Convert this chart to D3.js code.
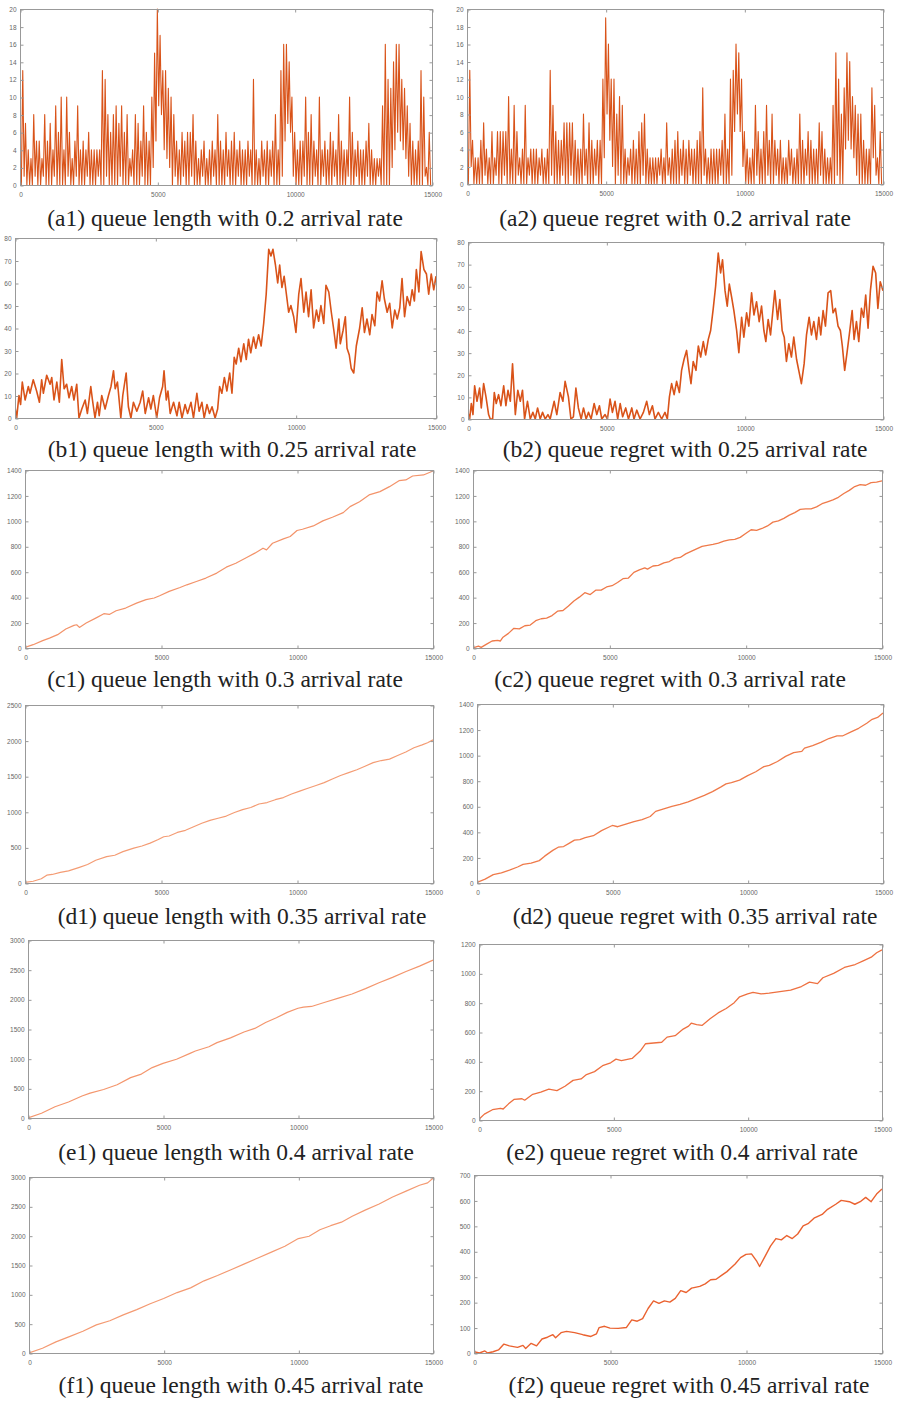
<!DOCTYPE html>
<html>
<head>
<meta charset="utf-8">
<script src="https://cdn.jsdelivr.net/npm/d3@7"></script>
<style>
  body { margin: 0; background: #fff; }
  .tick text { font-family: "Liberation Sans", Arial, sans-serif; font-size: 6.5px; fill: #666; }
  .tick line { stroke: #999; }
  .caption { font-family: "Liberation Serif", "Times New Roman", serif; font-size: 23.5px; fill: #222; }
</style>
</head>
<body>
<div id="chart"></div>
<script>
// ---- data ----
const xTicks = [0, 5000, 10000, 15000];
const binSize = 100;

const captions = [
  "(a1) queue length with 0.2 arrival rate", "(a2) queue regret with 0.2 arrival rate",
  "(b1) queue length with 0.25 arrival rate", "(b2) queue regret with 0.25 arrival rate",
  "(c1) queue length with 0.3 arrival rate", "(c2) queue regret with 0.3 arrival rate",
  "(d1) queue length with 0.35 arrival rate", "(d2) queue regret with 0.35 arrival rate",
  "(e1) queue length with 0.4 arrival rate", "(e2) queue regret with 0.4 arrival rate",
  "(f1) queue length with 0.45 arrival rate", "(f2) queue regret with 0.45 arrival rate"
];
const yMax = [20, 20, 80, 80, 1400, 1400, 2500, 1400, 3000, 1200, 3000, 700];
const yStep = [2, 2, 10, 10, 200, 200, 500, 200, 500, 200, 500, 100];

// 0.2 arrival rate: per-100-step bin max / min of the queue
const a1Hi = [
  3,13,7,4,3,8,5,5,3,8, 5,7,4,9,6,10,4,10,6,3, 5,9,4,5,4,6,4,4,4,4,
  13,12,8,6,8,9,7,9,6,8, 3,4,8,7,5,9,6,5,10,15, 20,17,13,13,11,10,8,5,4,6,
  5,6,6,8,5,3,4,5,3,4, 5,4,8,5,4,6,4,5,6,4, 5,4,4,5,4,12,4,3,5,4,
  5,4,5,8,4,13,16,16,14,10, 6,4,5,5,10,6,8,5,4,10, 4,5,4,6,5,4,8,5,4,4,
  10,6,4,5,4,4,5,7,4,3, 3,3,9,16,12,11,14,16,16,12, 11,9,7,5,4,5,13,10,2,6
];
const a1Lo = [
  0,1,0,0,0,1,0,0,1,0, 0,0,1,0,0,0,0,1,0,0, 1,0,0,0,1,0,0,0,1,0,
  0,1,0,0,0,0,1,0,0,0, 1,0,0,0,1,0,0,0,2,5, 9,8,4,3,2,0,1,0,0,1,
  0,0,1,0,0,0,1,0,0,0, 1,0,0,0,0,1,0,0,0,1, 0,0,0,1,0,0,0,0,1,0,
  0,1,0,0,0,1,5,7,6,1, 0,0,0,1,0,0,0,1,0,0, 1,0,0,0,1,0,0,0,0,1,
  0,0,1,0,0,0,1,0,0,0, 1,0,0,0,0,2,4,6,5,4, 3,1,0,0,0,0,0,1,0,0
];
const a2Hi = [
  3,13,5,3,3,5,7,4,3,6, 3,6,6,6,6,10,4,9,6,3, 4,9,3,4,4,4,3,4,3,4,
  13,9,6,5,5,7,7,7,7,5, 4,4,8,4,7,5,4,5,5,12, 19,16,12,12,8,10,9,4,3,4,
  5,4,6,7,8,4,3,3,3,3, 4,3,7,3,4,5,6,4,5,4, 5,4,4,5,6,11,4,3,4,4,
  4,4,5,8,4,12,13,16,15,12, 6,4,3,4,9,6,4,6,9,5, 8,5,4,5,3,3,5,4,3,4,
  8,5,4,6,5,4,4,7,6,4, 3,3,9,15,12,8,11,15,14,10, 9,8,8,5,4,4,11,9,3,6
];
const a2Lo = [
  0,2,0,0,0,0,1,0,0,0, 1,0,0,1,0,0,0,0,1,0, 0,0,1,0,0,0,1,0,0,0,
  1,0,0,0,1,0,0,1,0,0, 0,0,1,0,0,0,1,0,0,3, 8,5,2,0,1,0,0,0,1,0,
  0,0,0,1,0,0,0,0,0,1, 0,0,1,0,0,0,0,1,0,0, 1,0,0,0,0,1,0,0,0,0,
  0,1,0,0,0,1,6,8,6,2, 0,0,0,0,1,0,0,0,1,0, 0,1,0,0,0,0,1,0,0,0,
  0,0,1,0,0,0,0,1,0,0, 0,0,0,1,0,0,4,5,4,3, 1,0,0,0,0,0,3,1,0,0
];

// 0.25 arrival rate: [step, value]
const b1 = [
  [0,5],[60,0],[140,10],[200,6],[260,16],[360,8],[475,14],[535,11],[650,17],[770,12],
  [870,7],[950,17],[1010,11],[1130,19],[1250,15],[1310,18],[1390,8],[1490,16],[1580,7],[1665,26],
  [1750,13],[1840,15],[1925,9],[2020,14],[2100,8],[2200,15],[2280,0],[2380,4],[2500,8],[2580,2],
  [2700,14],[2760,8],[2850,0],[2940,7],[3000,1],[3090,10],[3210,4],[3330,10],[3420,14],[3510,21],
  [3570,13],[3650,16],[3770,0],[3840,10],[3960,20],[4040,5],[4130,0],[4220,7],[4340,3],[4460,7],
  [4550,12],[4640,2],[4760,9],[4840,4],[4930,10],[5050,0],[5150,9],[5260,14],[5310,21],[5390,8],
  [5450,12],[5530,2],[5650,7],[5770,1],[5850,7],[5950,0],[6060,6],[6150,2],[6270,7],[6360,0],
  [6480,11],[6560,3],[6660,7],[6740,0],[6840,6],[6930,2],[7020,5],[7130,0],[7220,4],[7290,14],
  [7370,11],[7460,18],[7550,12],[7650,20],[7730,11],[7810,27],[7880,24],[7970,31],[8050,25],[8150,33],
  [8240,26],[8320,35],[8400,29],[8500,36],[8580,31],[8680,37],[8770,32],[8860,42],[8950,55],[9040,75],
  [9120,72],[9190,75],[9280,68],[9360,60],[9430,68],[9510,58],[9590,63],[9670,55],[9750,47],[9830,50],
  [9930,45],[10010,38],[10110,55],[10190,62],[10290,47],[10370,56],[10460,45],[10550,57],[10640,40],[10740,48],
  [10820,43],[10900,50],[11000,42],[11080,59],[11180,56],[11270,47],[11360,39],[11440,31],[11540,44],[11590,33],
  [11690,39],[11770,45],[11830,31],[11910,28],[11980,22],[12070,20],[12160,32],[12280,40],[12370,49],[12450,38],
  [12540,44],[12640,37],[12720,46],[12820,41],[12900,56],[12990,52],[13080,61],[13160,53],[13260,47],[13350,51],
  [13440,40],[13530,48],[13620,44],[13710,49],[13790,62],[13880,45],[13970,54],[14070,50],[14150,57],[14230,52],
  [14300,66],[14390,56],[14470,74],[14570,66],[14660,64],[14740,55],[14830,64],[14920,57],[15000,63]
];
const b2 = [
  [0,3],[60,0],[120,7],[180,2],[240,15],[325,8],[420,14],[480,5],[565,16],[650,10],
  [745,2],[805,0],[890,0],[950,12],[1020,7],[1105,11],[1190,6],[1290,15],[1370,6],[1445,13],
  [1530,8],[1610,25],[1710,2],[1800,13],[1890,8],[1970,13],[2045,0],[2150,8],[2250,0],[2345,3],
  [2430,0],[2515,5],[2610,0],[2695,3],[2790,0],[2890,2],[2970,0],[3115,8],[3210,2],[3330,12],
  [3430,8],[3510,17],[3630,10],[3720,0],[3810,1],[3900,14],[3990,5],[4090,0],[4175,5],[4270,0],
  [4355,3],[4450,0],[4560,7],[4655,2],[4750,6],[4835,0],[4955,2],[5040,0],[5135,9],[5220,3],
  [5315,8],[5410,0],[5500,7],[5590,1],[5700,5],[5800,0],[5920,5],[6000,0],[6100,4],[6220,0],
  [6340,3],[6460,8],[6555,2],[6665,6],[6760,0],[6880,3],[7000,0],[7120,3],[7205,0],[7280,10],
  [7360,16],[7450,11],[7540,17],[7640,12],[7720,22],[7810,27],[7900,31],[7990,22],[8060,16],[8140,26],
  [8240,22],[8325,33],[8410,28],[8505,35],[8590,29],[8685,36],[8770,40],[8865,50],[8950,60],[9045,75],
  [9130,66],[9200,72],[9290,58],[9370,51],[9445,61],[9530,55],[9610,49],[9710,40],[9790,30],[9890,46],
  [9970,37],[10070,48],[10150,42],[10250,57],[10335,47],[10430,53],[10525,44],[10610,51],[10695,40],[10765,35],
  [10850,45],[10935,38],[11005,47],[11090,58],[11190,45],[11270,54],[11355,40],[11430,37],[11510,26],[11595,34],
  [11690,28],[11775,37],[11875,27],[11955,22],[12050,16],[12150,25],[12235,38],[12330,46],[12415,38],[12500,44],
  [12595,36],[12680,46],[12750,38],[12835,49],[12920,42],[13015,57],[13110,58],[13195,48],[13280,50],[13375,42],
  [13460,40],[13530,33],[13615,22],[13700,30],[13800,40],[13885,49],[13955,36],[14040,44],[14125,35],[14220,50],
  [14300,46],[14375,56],[14460,41],[14545,58],[14640,69],[14735,66],[14815,50],[14900,62],[15000,58]
];

// 0.3 - 0.45 arrival rate: [step, value]
const c1 = [
  [0,5],[300,26],[650,58],[900,78],[1200,105],[1500,149],[1800,178],[1900,183],[2000,162],[2250,196],
  [2600,235],[2900,270],[3100,264],[3350,293],[3700,314],[4100,353],[4450,380],[4750,393],[4950,411],[5300,445],
  [5700,476],[5950,497],[6300,523],[6650,550],[7050,589],[7400,636],[7750,667],[8150,712],[8450,746],[8750,785],
  [8880,772],[9100,824],[9500,858],[9750,877],[10000,924],[10200,934],[10600,960],[10950,1000],[11300,1028],[11700,1065],
  [11950,1112],[12300,1151],[12650,1204],[13050,1230],[13400,1269],[13750,1316],[14000,1322],[14250,1353],[14650,1361],[15000,1392]
];
const c2 = [
  [0,0],[200,15],[300,5],[500,30],[700,55],[900,60],[1000,55],[1100,85],[1300,115],[1500,155],
  [1700,150],[1900,175],[2100,180],[2300,215],[2500,230],[2700,235],[2900,255],[3100,290],[3300,295],[3500,330],
  [3700,370],[3900,400],[4100,435],[4300,420],[4500,455],[4700,455],[4900,480],[5100,490],[5300,515],[5500,545],
  [5700,550],[5900,595],[6100,615],[6300,630],[6400,620],[6600,645],[6800,650],[7000,670],[7200,680],[7400,705],
  [7600,712],[7800,740],[8000,760],[8200,780],[8400,800],[8600,808],[8800,815],[9000,825],[9200,840],[9400,850],
  [9600,855],[9800,870],[10000,900],[10200,930],[10400,925],[10600,940],[10800,960],[11000,990],[11200,1000],[11400,1020],
  [11600,1045],[11800,1065],[12000,1090],[12200,1095],[12400,1095],[12600,1110],[12800,1135],[13000,1150],[13200,1165],[13400,1185],
  [13600,1215],[13800,1240],[14000,1270],[14200,1285],[14400,1280],[14600,1300],[14800,1305],[15000,1315]
];
const d1 = [
  [0,10],[300,25],[600,60],[800,110],[1000,120],[1300,150],[1600,170],[2000,220],[2300,260],[2600,320],
  [3000,370],[3300,390],[3600,440],[4000,490],[4300,520],[4600,560],[4900,610],[5100,650],[5300,660],[5600,710],
  [5900,740],[6200,790],[6500,840],[6800,880],[7100,910],[7400,940],[7700,990],[8000,1030],[8300,1060],[8600,1110],
  [8900,1130],[9200,1170],[9500,1200],[9800,1250],[10100,1290],[10400,1330],[10700,1370],[11000,1410],[11300,1460],[11600,1510],
  [11900,1550],[12200,1590],[12500,1640],[12800,1690],[13100,1720],[13400,1740],[13700,1790],[14000,1840],[14300,1900],[14600,1940],
  [14800,1970],[15000,2010]
];
const d2 = [
  [0,5],[300,30],[600,65],[900,80],[1200,100],[1500,125],[1700,145],[2000,155],[2300,175],[2500,210],
  [2800,255],[3000,280],[3200,285],[3400,310],[3600,335],[3800,340],[4000,355],[4300,370],[4600,410],[4900,440],
  [5000,450],[5200,440],[5500,460],[5800,480],[6100,495],[6400,520],[6600,560],[6900,580],[7200,600],[7500,615],
  [7800,635],[8100,660],[8400,685],[8700,715],[9000,750],[9200,775],[9400,785],[9700,805],[10000,840],[10300,870],
  [10600,910],[10800,920],[11100,950],[11400,990],[11700,1020],[12000,1030],[12100,1055],[12400,1075],[12700,1100],[13000,1130],
  [13300,1150],[13500,1150],[13800,1180],[14100,1210],[14400,1250],[14600,1280],[14800,1295],[15000,1330]
];
const e1 = [
  [0,0],[500,80],[1000,190],[1500,270],[2000,370],[2300,420],[2800,480],[3300,560],[3800,680],[4200,740],
  [4600,850],[5000,920],[5500,990],[6000,1090],[6200,1130],[6700,1200],[7000,1270],[7500,1350],[8000,1450],[8400,1510],
  [8800,1610],[9200,1690],[9600,1780],[10000,1850],[10200,1870],[10500,1880],[11000,1950],[11500,2020],[12000,2090],[12500,2180],
  [13000,2280],[13500,2370],[14000,2470],[14500,2560],[15000,2660]
];
const e2 = [
  [0,5],[200,40],[500,70],[800,80],[900,75],[1100,110],[1300,140],[1600,145],[1700,135],[2000,175],
  [2300,190],[2600,210],[2900,200],[3200,230],[3500,270],[3800,280],[4000,310],[4300,330],[4600,370],[4900,390],
  [5100,415],[5300,405],[5700,420],[6000,470],[6200,520],[6500,525],[6800,530],[7000,565],[7300,575],[7600,620],
  [7800,640],[7900,660],[8100,650],[8300,645],[8600,690],[8900,730],[9200,760],[9500,800],[9700,840],[10000,860],
  [10200,870],[10500,860],[10800,865],[11200,875],[11600,885],[12000,910],[12300,940],[12600,930],[12800,970],[13200,1000],
  [13600,1040],[14000,1060],[14300,1085],[14600,1110],[14800,1140],[15000,1160]
];
const f1 = [
  [0,0],[500,80],[1000,190],[1500,280],[2000,370],[2500,480],[3000,550],[3500,650],[4000,740],[4500,840],
  [5000,930],[5500,1030],[6000,1110],[6500,1230],[7000,1320],[7500,1420],[8000,1520],[8500,1620],[9000,1720],[9500,1820],
  [10000,1950],[10400,1990],[10800,2100],[11200,2170],[11600,2230],[12000,2330],[12500,2440],[13000,2540],[13500,2660],[14000,2760],
  [14500,2860],[14800,2900],[15000,2980]
];
const f2 = [
  [0,5],[200,0],[400,8],[500,0],[700,5],[900,12],[1100,35],[1300,28],[1600,22],[1800,30],
  [1900,18],[2100,38],[2300,28],[2500,55],[2700,62],[2900,72],[3000,60],[3200,80],[3400,85],[3700,80],
  [4000,72],[4300,65],[4500,75],[4600,100],[4800,105],[5000,98],[5300,97],[5600,100],[5800,130],[6000,125],
  [6200,135],[6400,175],[6600,205],[6800,195],[7000,205],[7200,200],[7400,215],[7600,245],[7800,238],[8000,255],
  [8300,262],[8500,272],[8700,288],[8900,290],[9100,305],[9300,320],[9600,350],[9800,375],[10000,388],[10200,390],
  [10400,360],[10500,340],[10700,380],[10900,420],[11100,450],[11300,445],[11500,462],[11700,450],[11900,468],[12100,500],
  [12300,510],[12500,530],[12800,545],[13000,565],[13300,585],[13500,600],[13800,595],[14000,585],[14200,595],[14400,612],
  [14600,595],[14800,625],[15000,645]
];

// turn per-bin max/min into a zigzag trace
function binsToTrace(hi, lo) {
  const pts = [];
  hi.forEach((h, i) => {
    pts.push([i * binSize, h]);
    pts.push([i * binSize + binSize / 2, lo[i]]);
  });
  return pts;
}

const series = [
  binsToTrace(a1Hi, a1Lo), binsToTrace(a2Hi, a2Lo),
  b1, b2, c1, c2, d1, d2, e1, e2, f1, f2
];

// ---- layout: plot boxes [left, right, top, bottom], caption [centre x, baseline y] ----
const boxes = [
  [20, 432, 9, 185], [467, 883, 9, 184],
  [15, 436, 238, 418], [468, 883, 242, 419],
  [25, 433, 470, 648], [473, 882, 470, 648],
  [25, 433, 705, 883], [477, 883, 704, 883],
  [28, 433, 940, 1118], [479, 882, 944, 1120],
  [29, 433, 1177, 1353], [474, 882, 1175, 1353]
];
const capPos = [
  [225, 226], [675, 226], [232, 457], [685, 457], [225, 687], [670, 687],
  [242, 924], [695, 924], [236, 1160], [682, 1160], [241, 1393], [689, 1393]
];
const lineColor = [
  "#D95319", "#D95319", "#D95319", "#D95319",
  "#F3936A", "#EF7A4A", "#F49C74", "#EF7A4A",
  "#F4966D", "#EE7040", "#F49A72", "#EA6230"
];
const lineWidth = [1.1, 1.1, 1.6, 1.6, 1.2, 1.3, 1.2, 1.3, 1.2, 1.3, 1.2, 1.4];

const svg = d3.select("#chart").append("svg")
  .attr("width", 900)
  .attr("height", 1405);

series.forEach((data, i) => {
  const [L, R, T, B] = boxes[i];
  const x = d3.scaleLinear().domain([0, 15000]).range([L, R]);
  const y = d3.scaleLinear().domain([0, yMax[i]]).range([B, T]);
  const yTicks = d3.range(0, yMax[i] + 1, yStep[i]);

  const g = svg.append("g");

  const clipId = "clip" + i;
  g.append("clipPath").attr("id", clipId)
    .append("rect").attr("x", L).attr("y", T - 1).attr("width", R - L + 1).attr("height", B - T + 2);

  g.append("path")
    .datum(data)
    .attr("clip-path", `url(#${clipId})`)
    .attr("fill", "none")
    .attr("stroke", lineColor[i])
    .attr("stroke-width", lineWidth[i])
    .attr("stroke-linejoin", "round")
    .attr("d", d3.line().x(d => x(d[0])).y(d => y(d[1])));

  // axes, matlab style: inward ticks on all four sides
  const fmt = d3.format("d");
  const axB = g.append("g").attr("transform", `translate(0.5,${B + 0.5})`)
    .call(d3.axisBottom(x).tickValues(xTicks).tickSizeInner(-3).tickSizeOuter(0).tickPadding(7).tickFormat(fmt));
  const axT = g.append("g").attr("transform", `translate(0.5,${T + 0.5})`)
    .call(d3.axisTop(x).tickValues(xTicks).tickSizeInner(-3).tickSizeOuter(0).tickFormat(""));
  const axL = g.append("g").attr("transform", `translate(${L + 0.5},0.5)`)
    .call(d3.axisLeft(y).tickValues(yTicks).tickSizeInner(-3).tickSizeOuter(0).tickPadding(4).tickFormat(fmt));
  const axR = g.append("g").attr("transform", `translate(${R + 0.5},0.5)`)
    .call(d3.axisRight(y).tickValues(yTicks).tickSizeInner(-3).tickSizeOuter(0).tickFormat(""));
  [axB, axT, axL, axR].forEach(a => a.select(".domain").remove());

  g.append("rect")
    .attr("x", L + 0.5).attr("y", T + 0.5)
    .attr("width", R - L).attr("height", B - T)
    .attr("fill", "none")
    .attr("stroke", "#999")
    .attr("stroke-width", 1);

  g.append("text")
    .attr("class", "caption")
    .attr("x", capPos[i][0])
    .attr("y", capPos[i][1])
    .attr("text-anchor", "middle")
    .text(captions[i]);
});
</script>
</body>
</html>
